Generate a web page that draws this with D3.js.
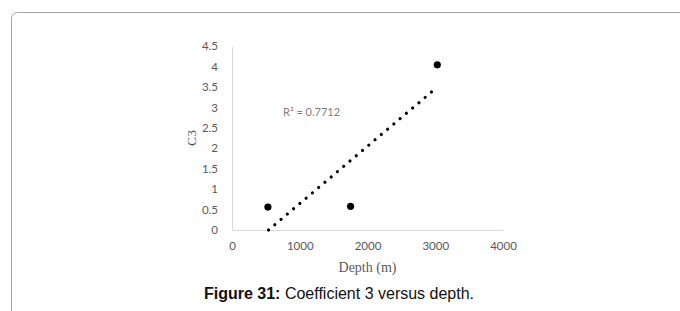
<!DOCTYPE html>
<html><head><meta charset="utf-8">
<script src="https://cdn.jsdelivr.net/npm/d3@7"></script>
<style>body{margin:0;background:#fff}svg{display:block}</style>
</head><body>
<script>
const depth = [530, 1750, 3030];
const c3 = [0.56, 0.58, 4.04];
const xTicks = [0, 1000, 2000, 3000, 4000];
const yTicks = [0, 0.5, 1, 1.5, 2, 2.5, 3, 3.5, 4, 4.5];
const r2Label = "R² = 0.7712";

const W = 680, H = 311;
const svg = d3.select("body").append("svg").attr("width", W).attr("height", H);

svg.append("rect").attr("x", 11.5).attr("y", 12.5).attr("width", 700).attr("height", 400)
  .attr("rx", 6).attr("fill", "none").attr("stroke", "#a6a6a6").attr("stroke-width", 1);

const x = d3.scaleLinear().domain([0, 4000]).range([232, 503]);
const y = d3.scaleLinear().domain([0, 4.5]).range([230, 46]);

const gx = svg.append("g").attr("transform", `translate(0,${y(0)})`)
  .call(d3.axisBottom(x).tickValues(xTicks).tickSize(0).tickPadding(12).tickFormat(d3.format("d")));
const gy = svg.append("g").attr("transform", `translate(${x(0)},0)`)
  .call(d3.axisLeft(y).tickValues(yTicks).tickSize(0).tickPadding(14).tickFormat(d3.format("")));
[gx, gy].forEach(g => {
  g.select(".domain").attr("stroke", "#d9d9d9").attr("stroke-width", 1);
  g.selectAll("text").attr("fill", "#595959").style("font-family", "Lato, 'Open Sans', sans-serif").style("font-size", "11.5px");
});
gy.selectAll("text").attr("text-anchor", "end");

// linear trendline (least squares) from the data, clipped at y = 0
const n = depth.length;
const mx = d3.mean(depth), my = d3.mean(c3);
let sxy = 0, sxx = 0;
for (let i = 0; i < n; i++) { sxy += (depth[i]-mx)*(c3[i]-my); sxx += (depth[i]-mx)**2; }
const slope = sxy/sxx, icpt = my - slope*mx;
const x0 = Math.max(d3.min(depth), -icpt/slope), x1 = d3.max(depth);
svg.append("line")
  .attr("x1", x(x0)).attr("y1", y(slope*x0+icpt))
  .attr("x2", x(x1)).attr("y2", y(slope*x1+icpt))
  .attr("stroke", "#000").attr("stroke-width", 3.2).attr("stroke-linecap", "round")
  .attr("stroke-dasharray", "0.01 8.2");

svg.selectAll("circle.pt").data(depth).enter().append("circle").attr("class", "pt")
  .attr("cx", d => x(d)).attr("cy", (d, i) => y(c3[i])).attr("r", 3.6).attr("fill", "#000");

svg.append("text").attr("x", 283).attr("y", 116).text(r2Label)
  .attr("fill", "#7f7f7f").style("font-family", "Lato, 'Open Sans', sans-serif").style("font-size", "11px");

svg.append("text").attr("transform", `translate(196,${y(2.25)}) rotate(-90)`).attr("text-anchor", "middle")
  .text("C3").attr("fill", "#595959").style("font-family", "'Liberation Serif', serif").style("font-size", "13.5px");
svg.append("text").attr("x", (x(0)+x(4000))/2).attr("y", 272).attr("text-anchor", "middle")
  .text("Depth (m)").attr("fill", "#595959").style("font-family", "'Liberation Serif', serif").style("font-size", "14px");

const cap = svg.append("text").attr("x", 339).attr("y", 299).attr("text-anchor", "middle")
  .style("font-family", "'Liberation Sans', Arial, sans-serif").style("font-size", "16px").attr("fill", "#111");
cap.append("tspan").attr("font-weight", "bold").text("Figure 31:");
cap.append("tspan").text(" Coefficient 3 versus depth.");
</script>
</body></html>
